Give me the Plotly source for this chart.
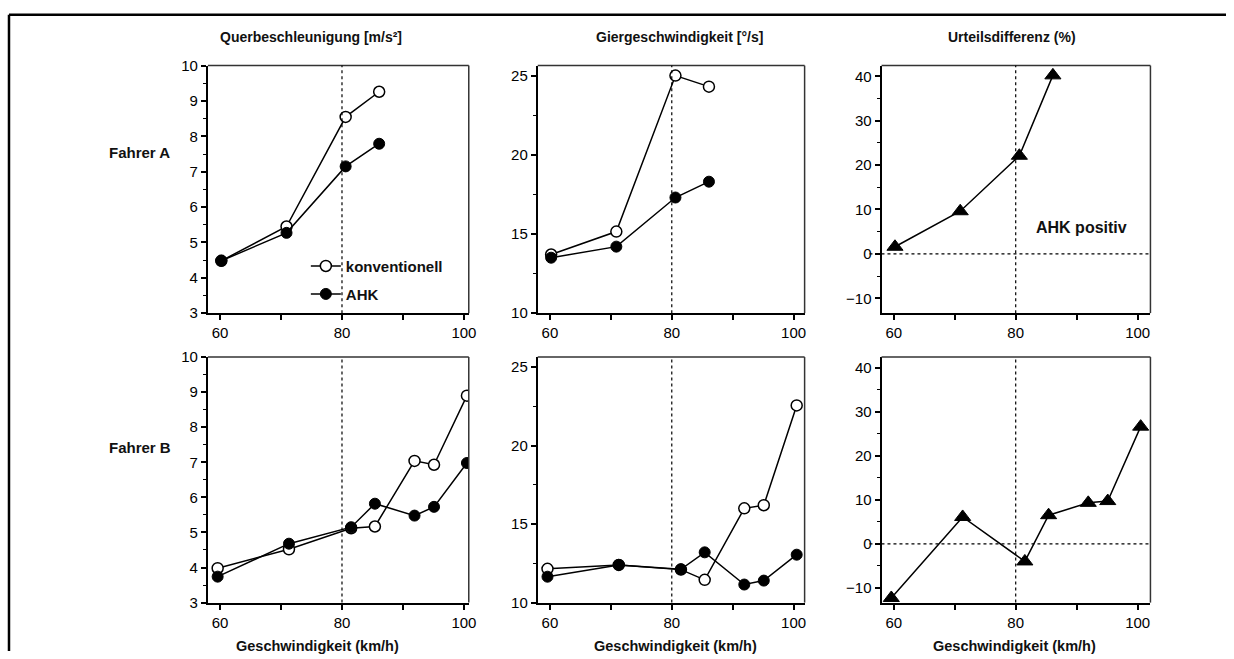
import plotly.graph_objects as go

W, H = 1234, 659

# ---------------- data ----------------
speed_A = [60.2, 70.9, 80.6, 86.1]
quer_A_konv = [4.48, 5.45, 8.55, 9.26]
quer_A_ahk = [4.48, 5.27, 7.15, 7.79]
gier_A_konv = [13.7, 15.15, 25.0, 24.3]
gier_A_ahk = [13.5, 14.2, 17.3, 18.3]
urteil_A = [1.6, 9.6, 22.1, 40.2]

speed_B = [59.6, 71.3, 81.5, 85.4, 91.9, 95.1, 100.5]
quer_B_konv = [3.98, 4.52, 5.12, 5.17, 7.04, 6.93, 8.9]
quer_B_ahk = [3.74, 4.68, 5.15, 5.82, 5.48, 5.73, 6.98]
gier_B_konv = [12.15, 12.4, 12.1, 11.45, 16.0, 16.2, 22.55]
gier_B_ahk = [11.65, 12.4, 12.12, 13.2, 11.15, 11.4, 13.05]
urteil_B = [-12.3, 6.1, -4.0, 6.5, 9.3, 9.7, 26.6]

col_titles = ["Querbeschleunigung [m/s²]", "Giergeschwindigkeit [°/s]", "Urteilsdifferenz (%)"]
row_titles = ["Fahrer A", "Fahrer B"]
x_title = "Geschwindigkeit (km/h)"
x_ticks = [60, 70, 80, 90, 100]
x_ticktext = ["60", "", "80", "", "100"]

# ---------------- layout geometry (target pixels) ----------------
# the captured page appears slightly rescaled; compensate
SX, OX = 0.994, 0.0
SY, OY = 0.976, 7.3

def px_x(p):
    return ((p - OX) / SX) / W

def px_y(p):
    return 1 - ((p - OY) / SY) / H

col_px = [(208, 469), (538, 805), (882, 1151)]
row_px = [(64, 312), (356, 602)]
x_ranges = [[58.0, 100.8], [58.0, 101.8], [58.0, 102.1]]
y_ranges = [[3, 10], [10, 25.63], [-13.35, 42.4]]
y_dtick = [1, 5, 10]
y_minor = [0.5, 2.5, 5]

FONT = "Liberation Sans, Arial, sans-serif"

fig = go.Figure()

line_style = dict(color="black", width=1.5)
open_marker = dict(symbol="circle", size=11, color="white", line=dict(color="black", width=1.5))
fill_marker = dict(symbol="circle", size=11, color="black", line=dict(color="black", width=1))
tri_marker = dict(symbol="triangle-up", size=14, color="black", line=dict(color="black", width=1))

panels = [
    (0, 0, speed_A, [quer_A_konv, quer_A_ahk]),
    (0, 1, speed_A, [gier_A_konv, gier_A_ahk]),
    (0, 2, speed_A, [urteil_A]),
    (1, 0, speed_B, [quer_B_konv, quer_B_ahk]),
    (1, 1, speed_B, [gier_B_konv, gier_B_ahk]),
    (1, 2, speed_B, [urteil_B]),
]

shapes = []
annotations = []
layout_axes = {}
TICKFONT = dict(family=FONT, size=15, color="#000")

for (r, c, xs, series) in panels:
    i = r * 3 + c + 1
    xa = "x" if i == 1 else f"x{i}"
    ya = "y" if i == 1 else f"y{i}"
    if len(series) == 2:
        fig.add_trace(go.Scatter(x=xs, y=series[0], mode="lines+markers", name="<b>konventionell</b>",
                                 line=line_style, marker=open_marker, xaxis=xa, yaxis=ya,
                                 showlegend=(i == 1), legend="legend"))
        fig.add_trace(go.Scatter(x=xs, y=series[1], mode="lines+markers", name="<b>AHK</b>",
                                 line=line_style, marker=fill_marker, xaxis=xa, yaxis=ya,
                                 showlegend=(i == 1), legend="legend2"))
    else:
        fig.add_trace(go.Scatter(x=xs, y=series[0], mode="lines+markers", name="Urteilsdifferenz",
                                 line=line_style, marker=tri_marker, xaxis=xa, yaxis=ya,
                                 showlegend=False))
    x0, x1 = col_px[c]
    yt, yb = row_px[r]
    xkey = "xaxis" if i == 1 else f"xaxis{i}"
    ykey = "yaxis" if i == 1 else f"yaxis{i}"
    layout_axes[xkey] = dict(
        domain=[px_x(x0), px_x(x1)], anchor=ya, range=x_ranges[c],
        tickmode="array", tickvals=x_ticks, ticktext=x_ticktext,
        ticks="outside", ticklen=5, tickwidth=1.5, tickcolor="black",
        showline=True, linewidth=2, linecolor="black", mirror=False,
        showgrid=False, zeroline=False, tickfont=TICKFONT,
    )
    layout_axes[ykey] = dict(
        domain=[px_y(yb), px_y(yt)], anchor=xa, range=y_ranges[c],
        dtick=y_dtick[c], tick0=0,
        ticks="outside", ticklen=5, tickwidth=1.5, tickcolor="black",
        minor=dict(dtick=y_minor[c], tick0=0, ticks="outside", ticklen=3, tickcolor="black", tickwidth=1),
        showline=True, linewidth=2, linecolor="black", mirror=False,
        showgrid=False, zeroline=False, tickfont=TICKFONT,
    )
    shapes.append(dict(type="line", xref=f"{xa} domain", yref=f"{ya} domain",
                       x0=0, x1=1, y0=1, y1=1, line=dict(color="#333", width=1.5)))
    shapes.append(dict(type="line", xref=f"{xa} domain", yref=f"{ya} domain",
                       x0=1, x1=1, y0=0, y1=1, line=dict(color="#333", width=1.5)))
    shapes.append(dict(type="line", xref=xa, yref=f"{ya} domain",
                       x0=80, x1=80, y0=0, y1=1, line=dict(color="black", width=1.2, dash="dot")))
    if c == 2:
        shapes.append(dict(type="line", xref=f"{xa} domain", yref=ya,
                           x0=-0.045, x1=1, y0=0, y1=0, line=dict(color="black", width=1.2, dash="dot")))

for t, xc in zip(col_titles, [311, 680, 1012]):
    annotations.append(dict(text=f"<b>{t}</b>", x=px_x(xc), y=px_y(35), xref="paper", yref="paper",
                            showarrow=False, xanchor="center", yanchor="middle",
                            font=dict(family=FONT, size=14, color="#111")))
for t, yc in zip(row_titles, [151, 447]):
    annotations.append(dict(text=f"<b>{t}</b>", x=px_x(107), y=px_y(yc), xref="paper", yref="paper",
                            showarrow=False, xanchor="left", yanchor="middle",
                            font=dict(family=FONT, size=15, color="#111")))
for xc in [318, 676, 1015]:
    annotations.append(dict(text=f"<b>{x_title}</b>", x=px_x(xc), y=px_y(645), xref="paper", yref="paper",
                            showarrow=False, xanchor="center", yanchor="middle",
                            font=dict(family=FONT, size=14.5, color="#111")))
annotations.append(dict(text="<b>AHK positiv</b>", x=83.0, y=6.0, xref="x3", yref="y3",
                        showarrow=False, xanchor="left", yanchor="middle",
                        font=dict(family=FONT, size=16, color="#111")))

shapes.append(dict(type="line", xref="paper", yref="paper", x0=px_x(9), x1=px_x(9),
                   y0=0, y1=px_y(13), line=dict(color="black", width=2.5)))
shapes.append(dict(type="line", xref="paper", yref="paper", x0=px_x(9), x1=1,
                   y0=px_y(13), y1=px_y(13), line=dict(color="black", width=2.5)))

LEGFONT = dict(family=FONT, size=15, color="#111")
fig.update_layout(
    width=W, height=H,
    margin=dict(l=0, r=0, t=0, b=0),
    paper_bgcolor="white", plot_bgcolor="white",
    shapes=shapes, annotations=annotations,
    showlegend=True,
    legend=dict(x=px_x(306), y=px_y(265), xanchor="left", yanchor="middle",
                bgcolor="rgba(0,0,0,0)", font=LEGFONT, itemwidth=30),
    legend2=dict(x=px_x(306), y=px_y(293), xanchor="left", yanchor="middle",
                 bgcolor="rgba(0,0,0,0)", font=LEGFONT, itemwidth=30),
    **layout_axes,
)

fig.write_html("out.html", config={"displayModeBar": False},
               post_script="document.body.style.margin='0';document.body.style.overflow='hidden';")
